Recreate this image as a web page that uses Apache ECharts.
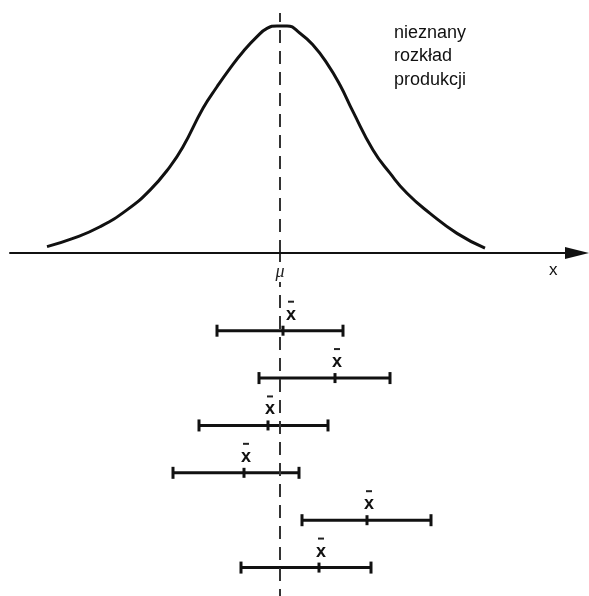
<!DOCTYPE html>
<html>
<head>
<meta charset="utf-8">
<script src="https://cdn.jsdelivr.net/npm/echarts@6/dist/echarts.min.js"></script>
<style>
  html, body { margin: 0; padding: 0; background: #fff; }
  #chart { width: 589px; height: 596px; }
</style>
</head>
<body>
<div id="chart"></div>
<script>
// Population mean (centre of the production distribution)
const mu = 0;

// Shape of the production distribution (x, relative density)
const curveX = [-23.3, -20.7, -18.0, -15.3, -13.0, -11.0, -9.7, -7.7, -6.3, -5.0, -3.7, -2.3, -1.3, -0.3, 0.7,
                2.0, 3.3, 4.7, 6.0, 7.3, 9.3, 11.0, 12.7, 15.0, 17.7, 20.5];
const curveY = [0.028, 0.064, 0.115, 0.189, 0.276, 0.379, 0.466, 0.635, 0.729, 0.810, 0.883, 0.949, 0.985, 0.996, 0.996,
                0.964, 0.912, 0.832, 0.737, 0.620, 0.452, 0.350, 0.262, 0.174, 0.086, 0.021];

// Six samples: confidence interval bounds and sample mean
const sampleNo   = [1, 2, 3, 4, 5, 6];
const ciLow      = [-6.3, -2.1, -8.1, -10.7, 2.2, -3.9];
const sampleMean = [0.3, 5.5, -1.2, -3.6, 8.7, 3.9];
const ciHigh     = [6.3, 11.0, 4.8, 1.9, 15.1, 9.1];

// Text
const muLabel = 'μ';
const axisLabelX = 'x';
const meanLabel = 'x';
const curveNote = 'nieznany\nrozkład\nprodukcji';

const FONT = '"Liberation Sans", Arial, sans-serif';
const INK = '#111';

const curveData = curveX.map((x, i) => [x, curveY[i]]);
const intervalData = sampleNo.map((n, i) => [n, ciLow[i], sampleMean[i], ciHigh[i]]);

const dashedMu = {
  silent: true,
  symbol: ['none', 'none'],
  label: { show: false },
  lineStyle: { color: '#333', width: 2, type: [13, 8] },
  data: [{ xAxis: mu }]
};

const chart = echarts.init(document.getElementById('chart'), null, { renderer: 'canvas' });

chart.setOption({
  animation: false,
  backgroundColor: '#fff',
  title: [
    {
      text: curveNote, left: 394, top: 21, padding: 0,
      textStyle: { fontFamily: FONT, fontSize: 18, fontWeight: 'normal', color: '#111', lineHeight: 23.5 }
    },
    {
      text: axisLabelX, left: 549, top: 262, padding: 0,
      textStyle: { fontFamily: FONT, fontSize: 17, fontWeight: 'normal', color: '#111', lineHeight: 17 }
    }
  ],
  grid: [
    { left: 10, right: 12, top: 13, bottom: 343 },
    { left: 10, right: 12, top: 253, bottom: 0 }
  ],
  xAxis: [
    {
      gridIndex: 0, type: 'value', min: -27, max: 29.7, z: 5,
      axisLine: {
        show: true, onZero: false,
        symbol: ['none', 'triangle'], symbolSize: [12, 24],
        lineStyle: { color: INK, width: 2 }
      },
      axisTick: { show: false },
      splitLine: { show: false },
      axisLabel: {
        show: true, customValues: [mu], formatter: () => muLabel,
        margin: 9, fontFamily: '"Liberation Serif", "DejaVu Serif", serif', fontStyle: 'italic',
        fontSize: 18, color: '#222', backgroundColor: '#fff', padding: [1, 2]
      }
    },
    {
      gridIndex: 1, type: 'value', min: -27, max: 29.7, show: false,
      splitLine: { show: false }
    }
  ],
  yAxis: [
    { gridIndex: 0, type: 'value', min: 0, max: 1.0526, show: false, splitLine: { show: false } },
    { gridIndex: 1, type: 'value', min: -0.64, max: 6.6, inverse: true, show: false, splitLine: { show: false } }
  ],
  series: [
    {
      type: 'line', xAxisIndex: 0, yAxisIndex: 0,
      data: curveData, smooth: 0.5, symbol: 'none',
      lineStyle: { color: INK, width: 3 },
      markLine: dashedMu
    },
    {
      type: 'custom', xAxisIndex: 1, yAxisIndex: 1,
      data: intervalData,
      encode: { x: [1, 2, 3], y: 0 },
      markLine: dashedMu,
      renderItem: function (params, api) {
        const row = api.value(0);
        const pLow = api.coord([api.value(1), row]);
        const pMean = api.coord([api.value(2), row]);
        const pHigh = api.coord([api.value(3), row]);
        const y = pLow[1];
        const stroke = { stroke: INK, lineWidth: 3 };
        // nudge the x̄ label clear of the μ line when the mean sits on it
        const dx = Math.abs(api.value(2) - mu) < 1 ? 8 : 2;
        const cx = pMean[0] + dx;
        const cy = y - 16;
        return {
          type: 'group',
          children: [
            { type: 'line', shape: { x1: pLow[0], y1: y, x2: pHigh[0], y2: y }, style: stroke },
            { type: 'line', shape: { x1: pLow[0], y1: y - 6, x2: pLow[0], y2: y + 6 }, style: stroke },
            { type: 'line', shape: { x1: pHigh[0], y1: y - 6, x2: pHigh[0], y2: y + 6 }, style: stroke },
            { type: 'line', shape: { x1: pMean[0], y1: y - 5, x2: pMean[0], y2: y + 5 }, style: stroke },
            {
              type: 'text',
              style: {
                text: meanLabel, x: cx, y: cy, align: 'center', verticalAlign: 'middle',
                font: 'bold 18px ' + FONT, fill: '#111'
              }
            },
            { type: 'line', shape: { x1: cx - 3, y1: cy - 13, x2: cx + 3, y2: cy - 13 }, style: { stroke: '#222', lineWidth: 2 } }
          ]
        };
      }
    }
  ]
});
</script>
</body>
</html>
